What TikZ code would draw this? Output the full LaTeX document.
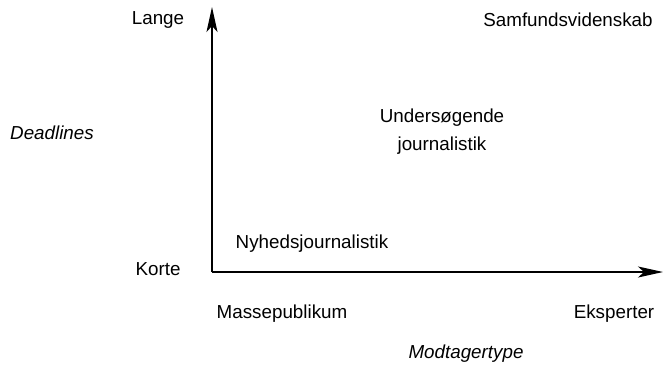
\documentclass[tikz,border=0pt]{standalone}
\usepackage{fontspec}
\setmainfont{Liberation Sans}
\usetikzlibrary{arrows.meta}
\begin{document}
\begin{tikzpicture}[x=1pt,y=-1pt,
  lbl/.style={font=\fontsize{18.8}{28}\selectfont, inner sep=0pt, align=center},
  ilbl/.style={lbl, font=\fontsize{18.8}{28}\selectfont\itshape},
  axis/.style={line width=1.5pt, -{Stealth[length=25pt,width=11pt,inset=6pt]}}]
\useasboundingbox (0,0) rectangle (664,368);
\coordinate (o) at (212,272);
\coordinate (ytop) at (212,7);
\coordinate (xend) at (663,272);
\draw[axis] (o) -- (ytop);
\draw[axis] (o) -- (xend);
\node[lbl] (lange) at (158,20) {Lange};
\node[lbl] (korte) at (158,269) {Korte};
\node[ilbl] (dead) at (52,133) {Deadlines};
\node[lbl] (samf) at (568,20) {Samfundsvidenskab};
\node[lbl] (unders) at (442,132) {Undersøgende\\journalistik};
\node[lbl] (nyh) at (312,244) {Nyhedsjournalistik};
\node[lbl] (masse) at (282,314) {Massepublikum};
\node[lbl] (eksp) at (614,314) {Eksperter};
\node[ilbl] (modt) at (466,354) {Modtagertype};
\end{tikzpicture}
\end{document}
